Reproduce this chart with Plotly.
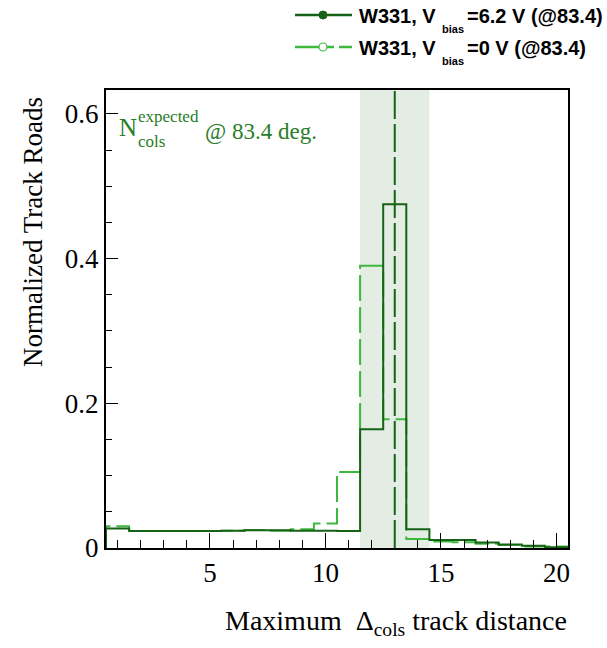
import plotly.graph_objects as go

# ---------------- data ----------------
bin_centers = list(range(1, 21))
vals_62V = [0.027, 0.0235, 0.0235, 0.0235, 0.0235, 0.024, 0.0245, 0.0245, 0.024, 0.024,
            0.0235, 0.164, 0.475, 0.026, 0.011, 0.011, 0.0075, 0.005, 0.003, 0.001]
vals_0V = [0.030, 0.0235, 0.0235, 0.0235, 0.0235, 0.024, 0.025, 0.024, 0.026, 0.034,
           0.105, 0.390, 0.178, 0.0124, 0.009, 0.008, 0.006, 0.004, 0.002, 0.002]
expected_x = 13.0
band_lo, band_hi = 11.5, 14.5
x_ticks = [5, 10, 15, 20]
y_ticks = [0, 0.2, 0.4, 0.6]
y_tick_text = ["0", "0.2", "0.4", "0.6"]

DARK = "rgb(22,98,22)"
LIGHT = "rgb(62,185,62)"
TXT = "rgb(40,125,40)"
BAND = "rgb(228,237,228)"

def steps(vals):
    xs = [c - 0.5 for c in bin_centers]
    x = [xs[0]] + xs + [bin_centers[-1] + 0.5]
    y = [0] + list(vals) + [0]
    return x, y

fig = go.Figure()
x0, y0 = steps(vals_0V)
fig.add_trace(go.Scatter(x=x0, y=y0, mode="lines", line_shape="hv",
                         line=dict(color=LIGHT, width=2, dash="26px,6px"),
                         name="W331, Vbias=0 V (@83.4)", showlegend=False))
x1, y1 = steps(vals_62V)
fig.add_trace(go.Scatter(x=x1, y=y1, mode="lines", line_shape="hv",
                         line=dict(color=DARK, width=2),
                         name="W331, Vbias=6.2 V (@83.4)", showlegend=False))

shapes = [
    dict(type="rect", xref="x", yref="paper", x0=band_lo, x1=band_hi, y0=0, y1=1,
         fillcolor=BAND, line_width=0, layer="below"),
    dict(type="line", xref="x", yref="paper", x0=expected_x, x1=expected_x, y0=0, y1=1,
         line=dict(color=DARK, width=2, dash="28px,5px")),
]

W, H = 607, 648
ML, MR, MT, MB = 106, 39, 90, 100
PW, PH = W - ML - MR, H - MT - MB

def px(x):
    return (x - ML) / PW

def py(y):
    return (H - MB - y) / PH

# legend (drawn manually, outside plot, top right)
shapes += [
    dict(type="line", xref="paper", yref="paper", x0=px(295), x1=px(352), y0=py(15), y1=py(15),
         line=dict(color=DARK, width=2.5)),
    dict(type="circle", xref="paper", yref="paper", x0=px(319), x1=px(327), y0=py(19), y1=py(11),
         fillcolor=DARK, line=dict(color=DARK, width=1)),
    dict(type="line", xref="paper", yref="paper", x0=px(295), x1=px(319), y0=py(47), y1=py(47),
         line=dict(color=LIGHT, width=2.5)),
    dict(type="line", xref="paper", yref="paper", x0=px(327), x1=px(334), y0=py(47), y1=py(47),
         line=dict(color=LIGHT, width=2.5)),
    dict(type="line", xref="paper", yref="paper", x0=px(339), x1=px(352), y0=py(47), y1=py(47),
         line=dict(color=LIGHT, width=2.5)),
    dict(type="circle", xref="paper", yref="paper", x0=px(319), x1=px(327), y0=py(51), y1=py(43),
         fillcolor="white", line=dict(color=LIGHT, width=1.2)),
]

LFONT = dict(family="Liberation Sans", size=20, color="black")
annotations = []
for yrow, tail in [(16, "=6.2 V (@83.4)"), (48, "=0 V (@83.4)")]:
    annotations += [
        dict(xref="paper", yref="paper", x=px(357), y=py(yrow), xanchor="left", yanchor="middle",
             text="<b>W331, V</b>", showarrow=False, font=LFONT),
        dict(xref="paper", yref="paper", x=px(440), y=py(yrow + 13), xanchor="left", yanchor="middle",
             text="<b>bias</b>", showarrow=False, font=dict(family="Liberation Sans", size=11, color="black")),
        dict(xref="paper", yref="paper", x=px(465), y=py(yrow), xanchor="left", yanchor="middle",
             text="<b>" + tail + "</b>", showarrow=False, font=LFONT),
    ]

SERIF = "Liberation Serif"
# in-plot label
annotations += [
    dict(xref="paper", yref="paper", x=px(117), y=py(128), xanchor="left", yanchor="middle",
         text="N", showarrow=False, font=dict(family=SERIF, size=25, color=TXT)),
    dict(xref="paper", yref="paper", x=px(136), y=py(116), xanchor="left", yanchor="middle",
         text="expected", showarrow=False, font=dict(family=SERIF, size=17, color=TXT)),
    dict(xref="paper", yref="paper", x=px(136), y=py(141), xanchor="left", yanchor="middle",
         text="cols", showarrow=False, font=dict(family=SERIF, size=17, color=TXT)),
    dict(xref="paper", yref="paper", x=px(203), y=py(131), xanchor="left", yanchor="middle",
         text="@ 83.4 deg.", showarrow=False, font=dict(family=SERIF, size=23, color=TXT)),
]
# axis titles
annotations += [
    dict(xref="paper", yref="paper", x=px(569), y=py(622), xanchor="right", yanchor="middle",
         text="Maximum  Δ<sub>cols</sub> track distance", showarrow=False,
         font=dict(family=SERIF, size=28, color="black")),
    dict(xref="paper", yref="paper", x=px(33), y=py(95), xanchor="center", yanchor="top",
         text="Normalized Track Roads", textangle=-90, showarrow=False,
         font=dict(family=SERIF, size=27, color="black")),
]

fig.update_layout(
    width=W, height=H,
    margin=dict(l=ML, r=MR, t=MT, b=MB),
    paper_bgcolor="white", plot_bgcolor="white",
    shapes=shapes, annotations=annotations, showlegend=False,
)
fig.update_xaxes(range=[0.5, 20.5], tickvals=x_ticks, ticks="inside", ticklen=15, tickwidth=1,
                 tickcolor="black", showline=True, linecolor="black", linewidth=2, mirror=True,
                 showgrid=False, zeroline=False,
                 tickfont=dict(family=SERIF, size=27, color="black"),
                 minor=dict(dtick=1, tick0=0, ticks="inside", ticklen=8, tickcolor="black", showgrid=False))
fig.update_yaxes(range=[0, 0.633], tickvals=y_ticks, ticktext=y_tick_text, ticks="inside", ticklen=12,
                 tickwidth=1, tickcolor="black", showline=True, linecolor="black", linewidth=2, mirror=True,
                 showgrid=False, zeroline=False,
                 tickfont=dict(family=SERIF, size=27, color="black"),
                 minor=dict(dtick=0.05, tick0=0, ticks="inside", ticklen=6, tickcolor="black", showgrid=False))

fig.write_html("out.html")
